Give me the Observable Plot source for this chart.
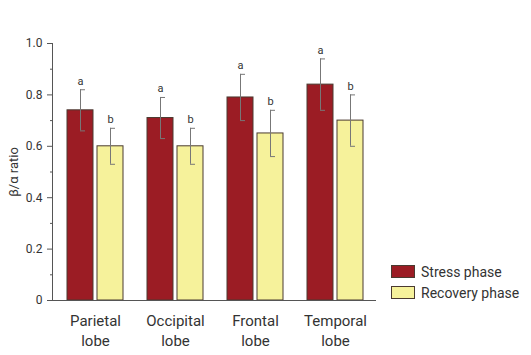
<!DOCTYPE html>
<html>
<head>
<meta charset="utf-8">
<script src="https://cdn.jsdelivr.net/npm/d3@7"></script>
<script src="https://cdn.jsdelivr.net/npm/@observablehq/plot@0.6"></script>
<style>
  body { margin: 0; background: #fff; font-family: Roboto, "DejaVu Sans", sans-serif; }
  #wrap { position: relative; width: 531px; height: 355px; }
  #legend { position: absolute; left: 391px; top: 261px; font-size: 14px; color: #333; }
  .item { display: flex; align-items: center; height: 21px; }
  .sw { width: 22px; height: 11px; border: 1px solid #4a3a30; margin-right: 6px; }
</style>
</head>
<body>
<div id="wrap"><div id="legend"></div></div>
<script>
const regions = ["Parietal lobe", "Occipital lobe", "Frontal lobe", "Temporal lobe"];
const phases = ["Stress phase", "Recovery phase"];
const stressMean = [0.74, 0.71, 0.79, 0.84];
const stressErr = [0.08, 0.08, 0.09, 0.10];
const recoveryMean = [0.60, 0.60, 0.65, 0.70];
const recoveryErr = [0.07, 0.07, 0.09, 0.10];
const stressLetters = ["a", "a", "a", "a"];
const recoveryLetters = ["b", "b", "b", "b"];
const majorTicks = [0, 0.2, 0.4, 0.6, 0.8, 1.0];
const minorTicks = [0.1, 0.3, 0.5, 0.7, 0.9];
const yLabel = "β/α ratio";
const colors = ["#9b1c24", "#f6f29b"];

const stress = regions.map((r, i) => ({region: r, mean: stressMean[i], lo: stressMean[i] - stressErr[i], hi: stressMean[i] + stressErr[i], letter: stressLetters[i]}));
const recovery = regions.map((r, i) => ({region: r, mean: recoveryMean[i], lo: recoveryMean[i] - recoveryErr[i], hi: recoveryMean[i] + recoveryErr[i], letter: recoveryLetters[i]}));

const errColor = "#777";
const barStroke = "#4a3a30";

const chart = Plot.plot({
  width: 531,
  height: 355,
  marginLeft: 52,
  marginRight: 155,
  marginTop: 43,
  marginBottom: 55,
  style: {fontFamily: "Roboto, 'DejaVu Sans', sans-serif", color: "#333", background: "#fff"},
  x: {type: "band", domain: regions, range: [55, 375], padding: 0},
  y: {domain: [0, 1]},
  marks: [
    Plot.barY(stress, {x: "region", y: "mean", fill: colors[0], stroke: barStroke, strokeWidth: 1, insetLeft: 12, insetRight: 42}),
    Plot.barY(recovery, {x: "region", y: "mean", fill: colors[1], stroke: barStroke, strokeWidth: 1, insetLeft: 42, insetRight: 12}),
    Plot.ruleX(stress, {x: "region", y1: "lo", y2: "hi", dx: -15, stroke: errColor}),
    Plot.ruleX(recovery, {x: "region", y1: "lo", y2: "hi", dx: 15, stroke: errColor}),
    Plot.tickY(stress, {x: "region", y: "hi", insetLeft: 25, insetRight: 50, stroke: errColor}),
    Plot.tickY(stress, {x: "region", y: "lo", insetLeft: 25, insetRight: 50, stroke: errColor}),
    Plot.tickY(recovery, {x: "region", y: "hi", insetLeft: 55, insetRight: 20, stroke: errColor}),
    Plot.tickY(recovery, {x: "region", y: "lo", insetLeft: 55, insetRight: 20, stroke: errColor}),
    Plot.text(stress, {x: "region", y: "hi", text: "letter", dx: -15, dy: -5, lineAnchor: "bottom", fontSize: 11, fill: "#333"}),
    Plot.text(recovery, {x: "region", y: "hi", text: "letter", dx: 15, dy: -5, lineAnchor: "bottom", fontSize: 11, fill: "#333"}),
    Plot.ruleX([regions[0]], {x: d => d, y1: 0, y2: 1, dx: -43, stroke: "#555"}),
    Plot.ruleY([0], {stroke: "#555"}),
    Plot.axisY({ticks: majorTicks, tickSize: 5, tickPadding: 5, fontSize: 12, stroke: "#555", fill: "#333",
      tickFormat: d => d === 0 ? "0" : d.toFixed(1), label: null}),
    Plot.axisY({ticks: minorTicks, tickSize: 2, tickFormat: () => "", label: null, stroke: "#555"}),
    Plot.text([yLabel], {text: d => d, frameAnchor: "left", rotate: -90, dx: -39, lineAnchor: "middle", textAnchor: "middle", fontSize: 13, fill: "#333"}),
    Plot.axisX({tickSize: 0, tickPadding: 11, fontSize: 15, lineHeight: 1.333, fill: "#333",
      tickFormat: d => d.replace(" ", "\n"), label: null})
  ]
});
document.getElementById("wrap").prepend(chart);

const legend = document.getElementById("legend");
phases.forEach((p, i) => {
  const item = document.createElement("div");
  item.className = "item";
  const sw = document.createElement("div");
  sw.className = "sw";
  sw.style.background = colors[i];
  const t = document.createElement("span");
  t.textContent = p;
  item.append(sw, t);
  legend.append(item);
});
</script>
</body>
</html>
